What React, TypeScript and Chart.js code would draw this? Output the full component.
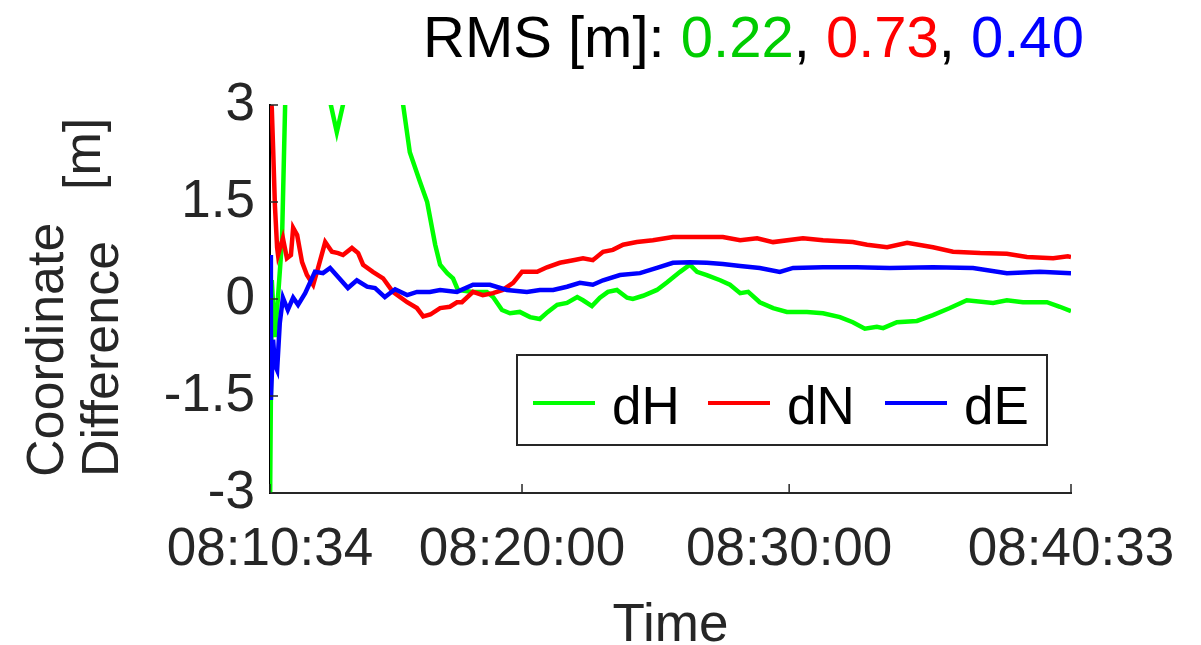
import React, { useEffect, useRef } from 'react';
import { Chart, registerables } from 'chart.js';

Chart.register(...registerables);

// ---------- data ----------
const xTickLabels = ['08:10:34', '08:20:00', '08:30:00', '08:40:33'];
const yTicks = [-3, -1.5, 0, 1.5, 3];
const seriesNames = ['dH', 'dN', 'dE'];
const seriesColors = ['#00ff00', '#ff0000', '#0000ff'];
const rmsColors = ['#00cc00', '#ff0000', '#0000ff'];
const rmsValues = [0.22, 0.73, 0.4];

// seconds after 08:10:34
const dHTime = [0, 4, 11, 18, 27, 34, 40, 67, 112, 124, 150, 177, 213, 270, 292, 299, 314, 337, 353, 371, 382, 398, 411, 422, 456, 487, 501, 521, 539, 561, 584, 606, 624, 645, 667, 690, 703, 723, 741, 759, 779, 802, 815, 838, 869, 892, 921, 943, 959, 981, 1011, 1033, 1056, 1074, 1100, 1130, 1161, 1206, 1242, 1280, 1309, 1336, 1363, 1377, 1408, 1453, 1489, 1527, 1565, 1624, 1655, 1691, 1745, 1774, 1799];
const dHValue = [-3.3, 0.29, -0.59, 0.03, 0.91, 3.0, 4.0, 5.5, 4.5, 3.4, 2.58, 3.4, 5.0, 5.0, 3.3, 3.0, 2.27, 1.81, 1.5, 0.84, 0.53, 0.4, 0.32, 0.14, 0.11, 0.11, 0.03, -0.17, -0.22, -0.2, -0.28, -0.31, -0.2, -0.09, -0.06, 0.03, -0.02, -0.11, 0.02, 0.11, 0.14, 0.02, 0.0, 0.05, 0.14, 0.26, 0.42, 0.53, 0.42, 0.37, 0.29, 0.22, 0.09, 0.11, -0.05, -0.14, -0.2, -0.2, -0.22, -0.28, -0.36, -0.46, -0.43, -0.45, -0.36, -0.34, -0.25, -0.14, -0.02, -0.06, -0.02, -0.05, -0.05, -0.12, -0.19];

const dNTime = [0, 4, 7, 11, 16, 18, 29, 38, 47, 52, 61, 72, 83, 97, 108, 124, 139, 153, 164, 184, 198, 209, 231, 254, 276, 308, 330, 344, 360, 382, 404, 420, 431, 456, 478, 501, 523, 546, 566, 600, 622, 651, 681, 703, 725, 748, 770, 793, 824, 860, 905, 943, 981, 1017, 1056, 1094, 1130, 1197, 1242, 1309, 1341, 1386, 1431, 1489, 1534, 1595, 1655, 1700, 1759, 1792, 1799];
const dNValue = [3.3, 2.95, 2.33, 1.45, 0.79, 0.68, 0.94, 0.63, 0.68, 1.1, 0.99, 0.57, 0.37, 0.22, 0.48, 0.88, 0.73, 0.71, 0.68, 0.79, 0.71, 0.53, 0.42, 0.32, 0.11, -0.05, -0.14, -0.27, -0.24, -0.14, -0.12, -0.05, -0.05, 0.11, 0.06, 0.09, 0.14, 0.25, 0.42, 0.42, 0.49, 0.56, 0.6, 0.63, 0.6, 0.73, 0.76, 0.84, 0.88, 0.91, 0.96, 0.96, 0.96, 0.96, 0.91, 0.94, 0.88, 0.94, 0.91, 0.88, 0.84, 0.8, 0.87, 0.8, 0.73, 0.71, 0.7, 0.65, 0.63, 0.66, 0.65];

const dETime = [0, 2, 7, 11, 16, 22, 29, 40, 52, 63, 79, 101, 119, 135, 153, 175, 195, 218, 236, 258, 281, 308, 330, 359, 382, 420, 456, 494, 532, 577, 606, 636, 667, 696, 725, 748, 786, 831, 869, 905, 943, 981, 1017, 1056, 1100, 1145, 1175, 1242, 1318, 1392, 1489, 1579, 1655, 1729, 1799];
const dEValue = [0.68, -1.56, -0.63, -1.02, -1.1, -0.37, 0.02, -0.17, 0.02, -0.09, 0.09, 0.42, 0.4, 0.48, 0.34, 0.17, 0.29, 0.19, 0.17, 0.03, 0.15, 0.06, 0.11, 0.11, 0.14, 0.11, 0.22, 0.22, 0.14, 0.11, 0.14, 0.14, 0.19, 0.25, 0.22, 0.29, 0.37, 0.4, 0.48, 0.56, 0.57, 0.56, 0.54, 0.51, 0.48, 0.42, 0.48, 0.49, 0.49, 0.48, 0.49, 0.48, 0.4, 0.42, 0.4];

// ---------- helpers ----------
const FONT = "'Liberation Sans', Arial, Helvetica, sans-serif";
const toSec = (s: string) => {
  const [h, m, sec] = s.split(':').map(Number);
  return h * 3600 + m * 60 + sec;
};
const t0 = toSec(xTickLabels[0]);
const xTickValues = xTickLabels.map((l) => toSec(l) - t0);

const seriesTimes = [dHTime, dNTime, dETime];
const seriesValues = [dHValue, dNValue, dEValue];

const overlayPlugin = {
  id: 'overlay',
  afterDraw(chart: any) {
    const ctx: CanvasRenderingContext2D = chart.ctx;
    const { left, bottom } = chart.chartArea;
    const xs = chart.scales.x;
    const ys = chart.scales.y;
    ctx.save();

    // inward tick marks
    ctx.strokeStyle = '#262626';
    ctx.lineWidth = 1.5;
    ys.ticks.forEach((t: any) => {
      const y = ys.getPixelForValue(t.value);
      ctx.beginPath();
      ctx.moveTo(left, y);
      ctx.lineTo(left + 8, y);
      ctx.stroke();
    });
    xs.ticks.forEach((t: any) => {
      const x = xs.getPixelForValue(t.value);
      ctx.beginPath();
      ctx.moveTo(x, bottom);
      ctx.lineTo(x, bottom - 9);
      ctx.stroke();
    });

    // legend
    const bx = 517, by = 355, bw = 530, bh = 90;
    ctx.fillStyle = '#ffffff';
    ctx.fillRect(bx, by, bw, bh);
    ctx.strokeStyle = '#262626';
    ctx.lineWidth = 2;
    ctx.strokeRect(bx, by, bw, bh);
    const itemX = [533, 708, 885];
    ctx.font = `53px ${FONT}`;
    ctx.textBaseline = 'alphabetic';
    ctx.textAlign = 'left';
    chart.data.datasets.forEach((ds: any, i: number) => {
      const x = itemX[i];
      ctx.strokeStyle = ds.borderColor;
      ctx.lineWidth = 4;
      ctx.beginPath();
      ctx.moveTo(x, 403);
      ctx.lineTo(x + 62, 403);
      ctx.stroke();
      ctx.fillStyle = '#000000';
      ctx.fillText(ds.label, x + 79, 424);
    });

    // title (multi-coloured)
    ctx.font = `58px ${FONT}`;
    let tx = 423;
    const ty = 57;
    const pieces: [string, string][] = [['RMS [m]: ', '#000000']];
    rmsValues.forEach((v, i) => {
      pieces.push([v.toFixed(2), rmsColors[i]]);
      if (i < rmsValues.length - 1) pieces.push([', ', '#000000']);
    });
    pieces.forEach(([txt, col]) => {
      ctx.fillStyle = col;
      ctx.fillText(txt, tx, ty);
      tx += ctx.measureText(txt).width;
    });

    // y axis title
    ctx.font = `52px ${FONT}`;
    ctx.fillStyle = '#262626';
    const rot = (text: string, x: number, y: number) => {
      ctx.save();
      ctx.translate(x, y);
      ctx.rotate(-Math.PI / 2);
      ctx.textAlign = 'left';
      ctx.textBaseline = 'alphabetic';
      ctx.fillText(text, 0, 0);
      ctx.restore();
    };
    rot('Coordinate', 63, 477);
    rot('Difference', 118, 477);
    rot('[m]', 100, 190);

    ctx.restore();
  },
};

export default function App() {
  const ref = useRef<HTMLCanvasElement>(null);
  useEffect(() => {
    document.body.style.margin = '0';
    const datasets = seriesNames.map((name, i) => ({
      label: name,
      data: seriesTimes[i].map((t, j) => ({ x: t, y: seriesValues[i][j] })),
      borderColor: seriesColors[i],
      backgroundColor: seriesColors[i],
      borderWidth: 4.5,
      pointRadius: 0,
      tension: 0,
      fill: false,
      order: 2 - i,
    }));
    const chart = new Chart(ref.current as HTMLCanvasElement, {
      type: 'line',
      data: { datasets },
      plugins: [overlayPlugin],
      options: {
        responsive: false,
        animation: false,
        parsing: false as any,
        layout: { padding: { top: 105, right: 130, left: 0, bottom: 0 } },
        plugins: { legend: { display: false }, tooltip: { enabled: false }, title: { display: false } },
        scales: {
          x: {
            type: 'linear',
            min: xTickValues[0],
            max: xTickValues[xTickValues.length - 1],
            afterBuildTicks: (s: any) => {
              s.ticks = xTickValues.map((v) => ({ value: v }));
            },
            afterFit: (s: any) => {
              s.height = 152;
            },
            ticks: {
              callback: (_v: any, i: number) => xTickLabels[i],
              font: { family: FONT, size: 53 },
              color: '#262626',
              padding: 26,
              maxRotation: 0,
              autoSkip: false,
            },
            grid: { display: false, drawTicks: false },
            border: { display: true, color: '#262626', width: 2 },
            title: {
              display: true,
              text: 'Time',
              font: { family: FONT, size: 53, lineHeight: 0.72 },
              color: '#262626',
              padding: 0,
            },
          },
          y: {
            type: 'linear',
            min: yTicks[0],
            max: yTicks[yTicks.length - 1],
            z: 1,
            afterBuildTicks: (s: any) => {
              s.ticks = yTicks.map((v) => ({ value: v }));
            },
            afterFit: (s: any) => {
              s.width = 270;
            },
            ticks: {
              callback: (_v: any, i: number) => String(yTicks[i]),
              font: { family: FONT, size: 53 },
              color: '#262626',
              padding: 15,
            },
            grid: { display: false, drawTicks: false },
            border: { display: true, color: '#000000', width: 2, dash: [2, 2] },
          },
        },
      } as any,
    });
    return () => chart.destroy();
  }, []);
  return (
    <div style={{ width: 1201, height: 645, background: '#ffffff' }}>
      <canvas ref={ref} width={1201} height={645} style={{ display: 'block' }} />
    </div>
  );
}
